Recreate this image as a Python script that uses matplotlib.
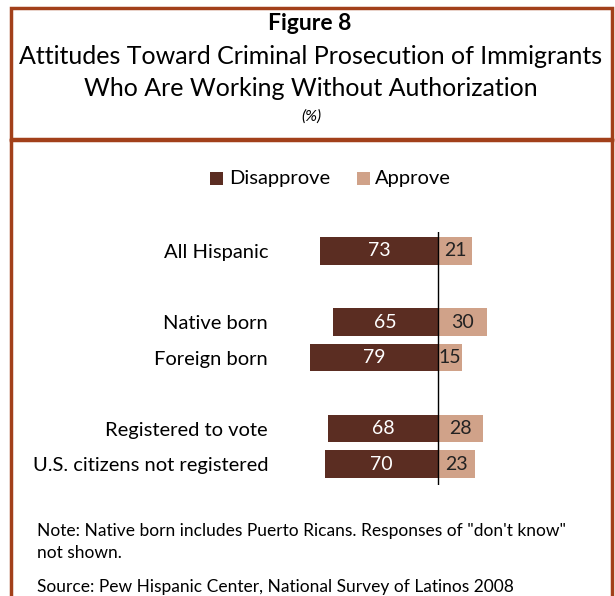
import matplotlib
matplotlib.use('Agg')
import matplotlib.pyplot as plt
from matplotlib.patches import Rectangle

plt.rcParams['font.family'] = ['Lato', 'DejaVu Sans']

categories = ['All Hispanic', 'Native born', 'Foreign born',
              'Registered to vote', 'U.S. citizens not registered']
positions = [0, 2, 3, 5, 6]
disapprove = [73, 65, 79, 68, 70]
approve = [21, 30, 15, 28, 23]

dark = '#5b2d22'
light = '#d0a289'
border = '#a2401a'

W, H = 615, 596
fig = plt.figure(figsize=(W / 100, H / 100), dpi=100)

def px(x, y):
    return x / W, 1 - y / H

# frames
fig.patches.append(Rectangle(px(11, 139), 601 / W, 131 / H, transform=fig.transFigure,
                             fill=False, edgecolor=border, linewidth=2.5))
fig.add_artist(plt.Line2D([11 / W, 11 / W], [1 - 140 / H, 0], color=border, lw=2.5))
fig.add_artist(plt.Line2D([612 / W, 612 / W], [1 - 140 / H, 0], color=border, lw=2.5))
fig.add_artist(plt.Line2D([11 / W, 612 / W], [1 - 140 / H, 1 - 140 / H], color=border, lw=2.5))

# titles
fig.text(*px(310, 23), 'Figure 8', ha='center', va='center', fontsize=16.5, fontweight='bold')
fig.text(*px(311, 57), 'Attitudes Toward Criminal Prosecution of Immigrants',
         ha='center', va='center', fontsize=18)
fig.text(*px(311, 89), 'Who Are Working Without Authorization',
         ha='center', va='center', fontsize=18)
fig.text(*px(311, 117), '(%)', ha='center', va='center', fontsize=11.5, style='italic')

# legend
fig.patches.append(Rectangle(px(210, 185), 13 / W, 13 / H, transform=fig.transFigure,
                             facecolor=dark, edgecolor='none'))
fig.text(*px(229, 178), 'Disapprove', ha='left', va='center', fontsize=14.5)
fig.patches.append(Rectangle(px(357, 185), 13 / W, 13 / H, transform=fig.transFigure,
                             facecolor=light, edgecolor='none'))
fig.text(*px(375, 178), 'Approve', ha='left', va='center', fontsize=14.5)

# chart
ax = fig.add_axes([300 / W, 1 - 485 / H, 276 / W, 253 / H])
scale = 1.62
ax.set_xlim(-138 / scale, 138 / scale)
ax.set_ylim(6.59, -0.535)
h = 0.77
ax.barh(positions, [-d for d in disapprove], height=h, color=dark, edgecolor='none')
ax.barh(positions, approve, height=h, color=light, edgecolor='none')
ax.axvline(0, color='black', lw=1)
for p, d, a in zip(positions, disapprove, approve):
    ax.text(-d / 2, p, str(d), ha='center', va='center', color='white', fontsize=14)
    ax.text(a / 2, p, str(a), ha='center', va='center', color='#222222', fontsize=14)
ax.set_yticks(positions)
ax.set_yticklabels(categories, fontsize=14.5)
ax.tick_params(axis='y', length=0, pad=23)
ax.set_xticks([])
for s in ax.spines.values():
    s.set_visible(False)
ax.patch.set_alpha(0)

# notes
fig.text(*px(37, 531), 'Note: Native born includes Puerto Ricans. Responses of "don\'t know"',
         ha='left', va='center', fontsize=12.5)
fig.text(*px(37, 553), 'not shown.', ha='left', va='center', fontsize=12.5)
fig.text(*px(37, 587), 'Source: Pew Hispanic Center, National Survey of Latinos 2008',
         ha='left', va='center', fontsize=12.5)

fig.savefig('out.png', dpi=100)
